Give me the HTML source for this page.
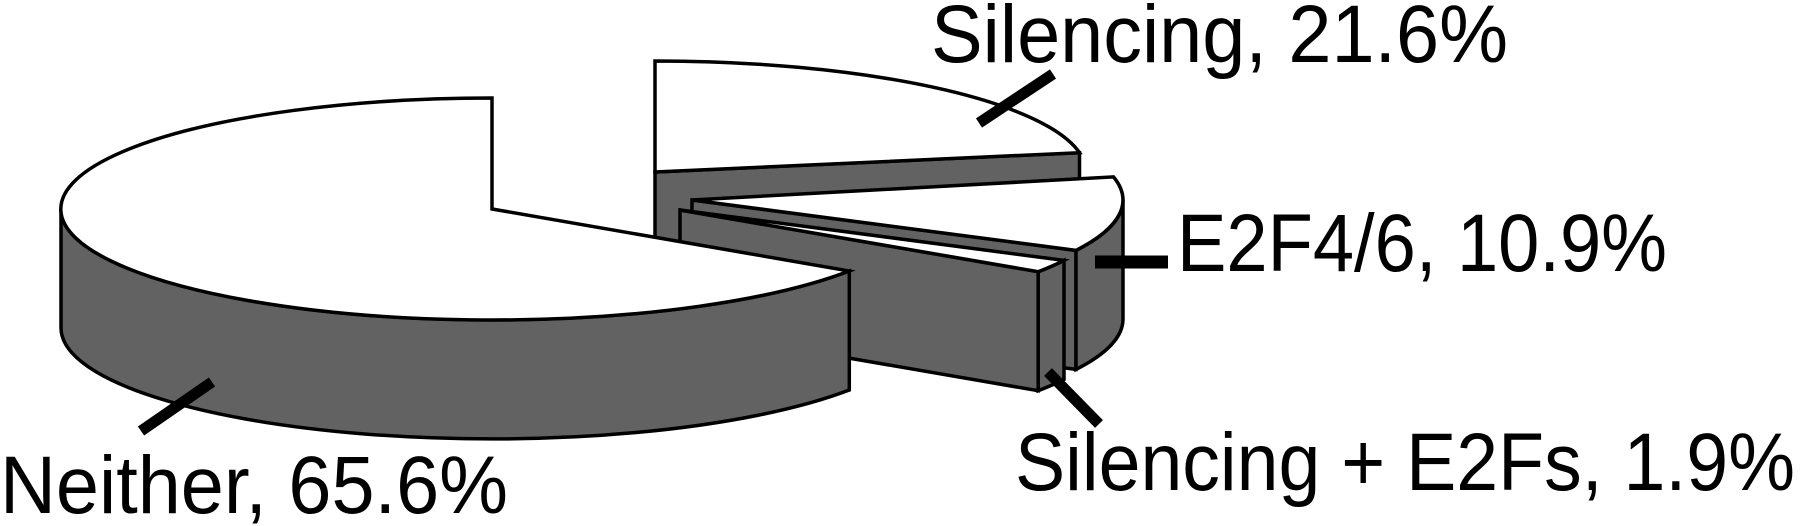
<!DOCTYPE html>
<html><head><meta charset="utf-8"><style>
html,body{margin:0;padding:0;background:#fff;}
svg{display:block;}
text{font-family:"Liberation Sans Narrow","Liberation Sans",sans-serif;font-size:82px;fill:#000;}
</style></head><body>
<svg width="1800" height="526" viewBox="0 0 1800 526" xmlns="http://www.w3.org/2000/svg">
<g stroke="#000" stroke-width="3.5" stroke-linejoin="miter">
<!-- Silencing -->
<path d="M655,172 L1079.5,152.7 L1079.5,271.7 L655,291 Z" fill="#626262"/>
<path d="M655,172 L655,61 A431,111 0 0 1 1079.5,152.7 Z" fill="#fff"/>
<!-- E2F4/6 -->
<path d="M692,200 L1076,250.4 L1076,369.4 L692,319 Z" fill="#626262"/>
<path d="M1123,200 A431,111 0 0 1 1076,250.4 L1076,369.4 A431,111 0 0 0 1123,319 Z" fill="#626262"/>
<path d="M692,200 L1113.5,176.9 A431,111 0 0 1 1076,250.4 Z" fill="#fff"/>
<!-- Silencing + E2Fs -->
<path d="M680,210 L1038.2,271.7 L1038.2,390.7 L680,329 Z" fill="#626262"/>
<path d="M1064,260.4 A431,111 0 0 1 1038.2,271.7 L1038.2,390.7 A431,111 0 0 0 1064,379.4 Z" fill="#626262"/>
<path d="M680,210 L1064,260.4 A431,111 0 0 1 1038.2,271.7 Z" fill="#fff"/>
<!-- Neither -->
<path d="M849.3,271 A431,111 0 0 1 61,209 L61,328 A431,111 0 0 0 849.3,390 Z" fill="#626262"/>
<path d="M492,209 L849.3,271 A431,111 0 1 1 492,98 Z" fill="#fff"/>
</g>
<!-- leaders -->
<g stroke="#000" stroke-width="11">
<line x1="212" y1="382" x2="141" y2="431"/>
<line x1="1053" y1="74" x2="979" y2="123"/>
<line x1="1095" y1="262" x2="1168" y2="262" stroke-width="13"/>
<line x1="1048" y1="372" x2="1099" y2="424"/>
</g>
<text x="0" y="513" textLength="508" lengthAdjust="spacingAndGlyphs">Neither, 65.6%</text>
<text x="931" y="62" textLength="577" lengthAdjust="spacingAndGlyphs">Silencing, 21.6%</text>
<text x="1177" y="271" textLength="490" lengthAdjust="spacingAndGlyphs">E2F4/6, 10.9%</text>
<text x="1015" y="490" textLength="780" lengthAdjust="spacingAndGlyphs">Silencing + E2Fs, 1.9%</text>
</svg>
</body></html>
